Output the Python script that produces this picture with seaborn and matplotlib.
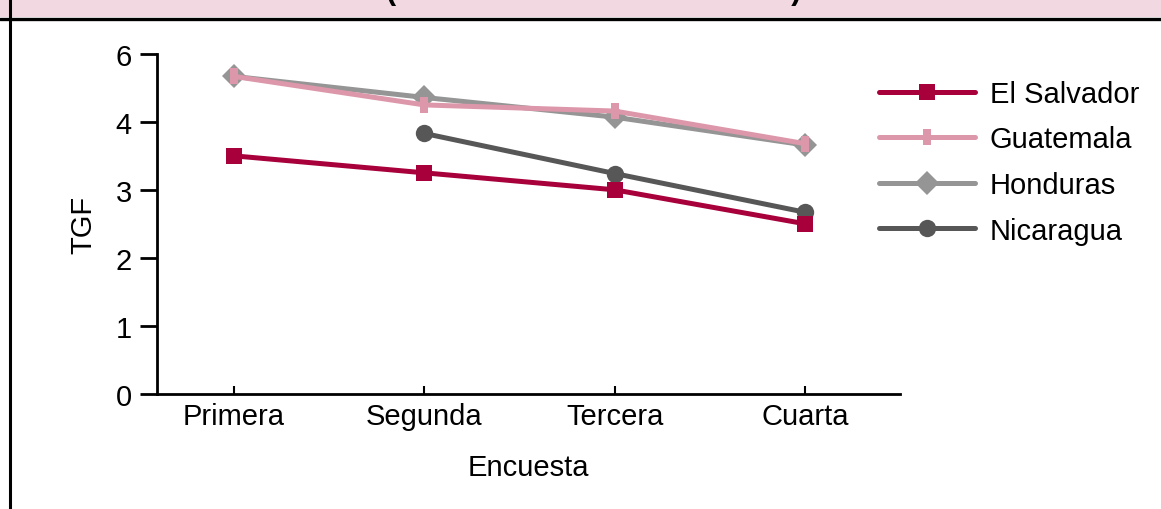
import matplotlib
matplotlib.use("Agg")
import matplotlib.pyplot as plt
from matplotlib.lines import Line2D
from matplotlib.patches import Rectangle
import seaborn as sns
import pandas as pd
import numpy as np

# Survey rounds and total fertility rate (TGF) per country
encuestas = ["Primera", "Segunda", "Tercera", "Cuarta"]
el_salvador = [3.5, 3.25, 3.0, 2.5]
guatemala = [4.67, 4.25, 4.16, 3.68]
honduras = [4.67, 4.36, 4.07, 3.66]
nicaragua = [np.nan, 3.83, 3.24, 2.67]

# Y tick positions and the labels printed on them
y_ticks = [0, 1, 2, 3, 4, 5]
y_tick_labels = ["0", "1", "2", "3", "4", "6"]

paises = ["El Salvador", "Guatemala", "Honduras", "Nicaragua"]
valores = [el_salvador, guatemala, honduras, nicaragua]

sns.set_theme(style="white")
plt.rcParams["font.family"] = ["Liberation Sans", "DejaVu Sans"]
plt.rcParams["text.color"] = "black"
plt.rcParams["axes.labelcolor"] = "black"
plt.rcParams["xtick.color"] = "black"
plt.rcParams["ytick.color"] = "black"

rect_marker = [(-0.5, -1.0), (0.5, -1.0), (0.5, 1.0), (-0.5, 1.0), (-0.5, -1.0)]
estilos = {
    "El Salvador": dict(color="#a8003b", marker="s", markersize=11.5),
    "Guatemala": dict(color="#dd97aa", marker=rect_marker, markersize=12),
    "Honduras": dict(color="#959595", marker="D", markersize=12),
    "Nicaragua": dict(color="#575757", marker="o", markersize=12.5),
}
orden_dibujo = ["Honduras", "Guatemala", "Nicaragua", "El Salvador"]

fig = plt.figure(figsize=(11.61, 5.10), dpi=100)
ax = fig.add_axes([157 / 1161, 1 - 394.5 / 510, (900 - 157) / 1161, (394.5 - 55) / 510])

pos = {c: i for i, c in enumerate(encuestas)}
for pais in orden_dibujo:
    serie = valores[paises.index(pais)]
    df = pd.DataFrame({"x": [pos[c] for c in encuestas], "TGF": serie}).dropna()
    st = estilos[pais]
    sns.lineplot(data=df, x="x", y="TGF", ax=ax, color=st["color"], marker=st["marker"],
                 markersize=st["markersize"], markeredgewidth=0, linewidth=3.6,
                 label=pais, legend=False)

ax.set_xlim(-0.405, 3.5)
ax.set_ylim(0, 5)
ax.set_xticks(range(len(encuestas)))
ax.set_xticklabels(encuestas, fontsize=21)
ax.set_yticks(y_ticks)
ax.set_yticklabels(y_tick_labels, fontsize=21)
ax.set_xlabel("Encuesta", fontsize=21, labelpad=17)
ax.set_ylabel("TGF", fontsize=21, labelpad=13)

for side in ["top", "right"]:
    ax.spines[side].set_visible(False)
for side in ["left", "bottom"]:
    ax.spines[side].set_linewidth(2.0)
    ax.spines[side].set_color("black")
ax.tick_params(axis="y", direction="out", length=12, width=2.0, color="black", pad=6, left=True)
ax.tick_params(axis="x", direction="in", length=6, width=1.5, color="black", pad=6, bottom=True)

handles = []
for pais in paises:
    st = estilos[pais]
    handles.append(Line2D([], [], color=st["color"], marker=st["marker"], markersize=st["markersize"],
                          markeredgewidth=0, linewidth=3.6, solid_capstyle="round"))
fig.legend(handles, paises, loc="upper left", bbox_to_anchor=(879 / 1161, 1 - 81 / 510),
           frameon=False, fontsize=21, handlelength=3.3, handletextpad=0.5,
           labelspacing=0.6, borderpad=0, borderaxespad=0)

# Header band with the subtitle line, and the frame on the left
fig.patches.append(Rectangle((0, 1 - 18 / 510), 1, 18 / 510, transform=fig.transFigure,
                             facecolor="#f2d8e1", edgecolor="none", zorder=0))
fig.add_artist(Line2D([0, 1], [1 - 19.5 / 510] * 2, transform=fig.transFigure,
                      color="black", linewidth=2.4))
fig.add_artist(Line2D([9.8 / 1161] * 2, [0, 1], transform=fig.transFigure,
                      color="black", linewidth=2.2))
fig.text(0.511, 1 + 1.5 / 510, "(Tasa Global de Fecundidad)", ha="center", va="baseline",
         fontsize=22, fontweight="bold")

fig.savefig("out.png", dpi=100)
